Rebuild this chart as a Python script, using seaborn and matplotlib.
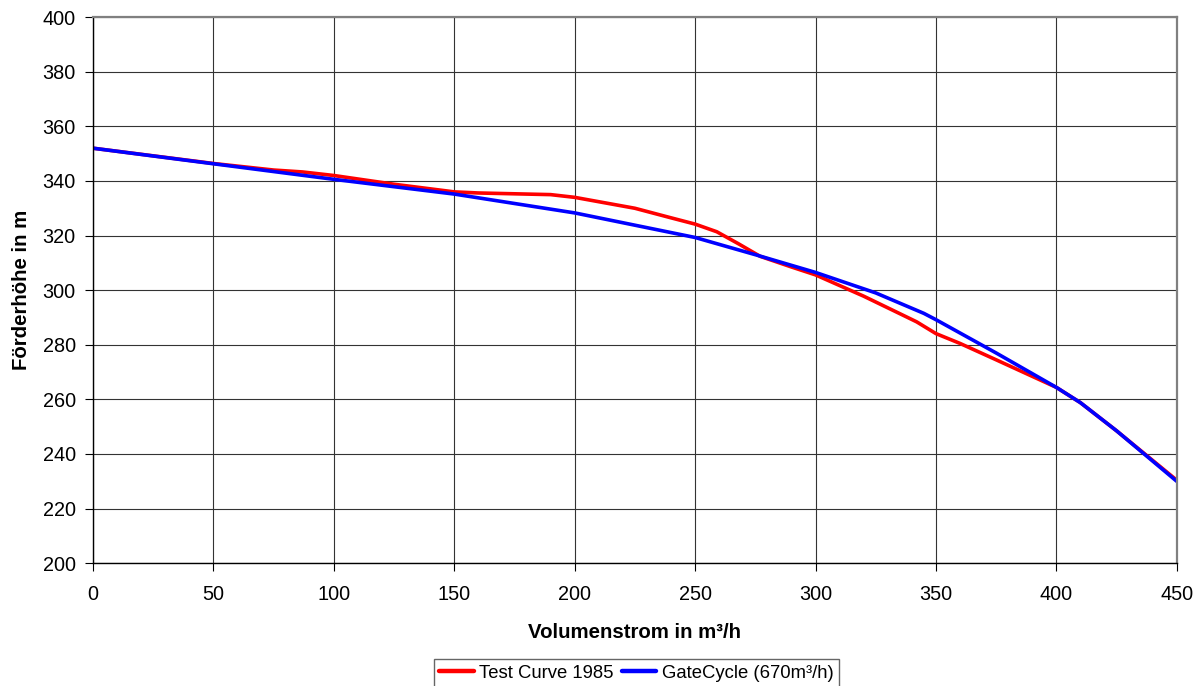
import numpy as np
import pandas as pd
import matplotlib
matplotlib.use("Agg")
import matplotlib.pyplot as plt
import seaborn as sns

# Pump head curves: flow rate (m³/h) vs. head (m)
test_flow = [0, 25, 50, 75, 87, 100, 125, 150, 160, 180, 190, 200, 225, 240, 250,
             259, 268, 277, 290, 300, 320, 335, 342, 350, 360, 375, 400, 410, 425, 450]
test_head = [352, 349.2, 346.4, 344, 343.3, 342, 338.8, 336, 335.6, 335.2, 335, 334,
             330, 326.5, 324.2, 321.4, 317, 312.4, 308.5, 305.6, 297.8, 291.4, 288.4,
             284.1, 280.5, 274.5, 264.4, 258.8, 248.5, 230.4]

gate_flow = [0, 50, 100, 150, 200, 250, 275, 300, 325, 345, 350, 375, 400, 410, 425, 450]
gate_head = [352, 346.3, 340.6, 335.2, 328.3, 319.3, 313, 306.5, 299, 291.5, 289.2,
             277, 264.4, 258.8, 248.5, 230]

series_names = ["Test Curve 1985", "GateCycle (670m³/h)"]
series_colors = ["#FF0000", "#0000FF"]

x_ticks = list(range(0, 451, 50))
y_ticks = list(range(200, 401, 20))

df = pd.concat([
    pd.DataFrame({"flow": test_flow, "head": test_head, "series": series_names[0]}),
    pd.DataFrame({"flow": gate_flow, "head": gate_head, "series": series_names[1]}),
], ignore_index=True)

sns.set_style("white")
plt.rcParams["font.family"] = ["Liberation Sans", "DejaVu Sans"]
plt.rcParams["text.color"] = "black"
plt.rcParams["axes.labelcolor"] = "black"

fig = plt.figure(figsize=(12.02, 6.86), dpi=100)
ax = fig.add_axes([0.0774, 0.179, 0.9016, 0.796])

sns.lineplot(data=df, x="flow", y="head", hue="series", hue_order=series_names,
             palette=series_colors, linewidth=2.6, sort=False, estimator=None,
             ax=ax, legend=False)

ax.set_xlim(0, 450)
ax.set_ylim(200, 400)
ax.set_xticks(x_ticks)
ax.set_yticks(y_ticks)
ax.tick_params(axis="both", labelsize=14.3, colors="black", labelcolor="black",
               length=5.5, width=0.8, direction="out")
ax.tick_params(axis="y", left=True, pad=7)
ax.tick_params(axis="x", bottom=True, pad=10)
ax.grid(True, color="#333333", linewidth=0.8)
ax.set_axisbelow(True)
for side in ["top", "right"]:
    ax.spines[side].set_color("#808080")
    ax.spines[side].set_linewidth(1.6)
for side in ["left", "bottom"]:
    ax.spines[side].set_color("black")
    ax.spines[side].set_linewidth(1.0)

ax.set_xlabel("Volumenstrom in m³/h", fontsize=14.7, fontweight="bold",
              labelpad=14, color="black")
ax.set_ylabel("Förderhöhe in m", fontsize=14.7, fontweight="bold",
              labelpad=8, color="black")

handles = [plt.Line2D([], [], color=c, linewidth=3.2) for c in series_colors]
leg = fig.legend(handles, series_names, loc="upper center",
                 bbox_to_anchor=(0.5295, 0.0394), ncol=2, frameon=True,
                 fancybox=False, edgecolor="#404040", fontsize=13.3,
                 handlelength=1.85, handletextpad=0.3, columnspacing=0.45,
                 borderpad=0.3, borderaxespad=0)
leg.get_frame().set_linewidth(1.0)

fig.savefig("out.png", dpi=100)
